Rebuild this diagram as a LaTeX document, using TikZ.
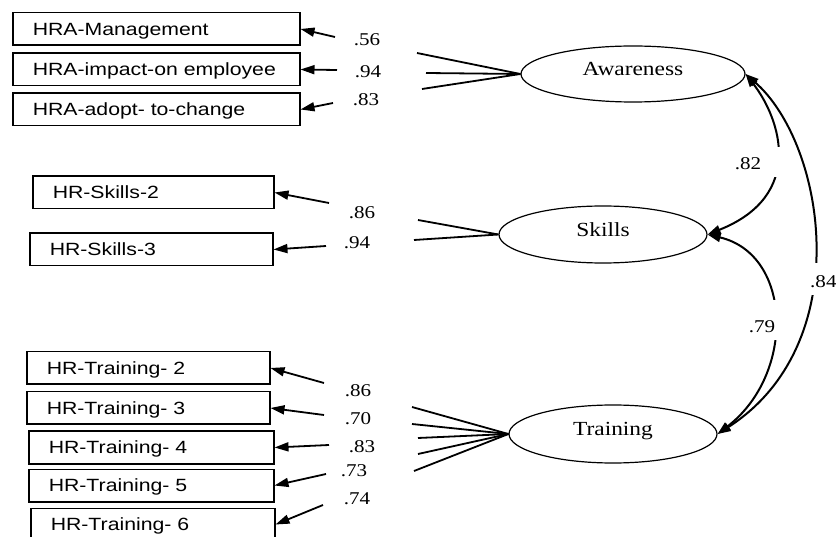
\documentclass[tikz,border=0pt]{standalone}
\usepackage{fontspec}
\usetikzlibrary{shapes.geometric,arrows.meta}
\newfontfamily\boxfont[FakeStretch=1.2]{Liberation Sans}
\newfontfamily\serifw[FakeStretch=1.17]{Liberation Serif}
\begin{document}
\begin{tikzpicture}[x=1pt,y=-1pt,
  box/.style={draw, rectangle, line width=1.5pt, anchor=west, minimum height=32.5pt,
    inner xsep=20pt, inner ysep=0pt, align=left,
    font={\boxfont\fontsize{17.7}{20}\selectfont}, text height=12.7pt, text depth=0pt},
  ell/.style={draw, ellipse, line width=1.2pt, inner sep=0pt,
    font={\serifw\fontsize{20}{22}\selectfont}, text height=13.4pt, text depth=10pt},
  lab/.style={inner sep=0pt, font={\serifw\fontsize{18}{20}\selectfont},
    text height=12.2pt, text depth=0pt},
  arr/.style={line width=1.8pt, -{Triangle[length=14pt,width=9pt]}},
  fan/.style={line width=1.8pt},
  curv/.style={line width=2pt,
    {Triangle[length=13pt,width=9pt]}-{Triangle[length=13pt,width=9pt]}}]
\path[use as bounding box] (0,0) rectangle (836,537);
\clip (0,0) rectangle (836,537);

% indicator boxes
\node[box, text width=247pt] (B1) at (12,29) {HRA-Management};
\node[box, text width=247pt] (B2) at (12,69.5) {HRA-impact-on employee};
\node[box, text width=247pt] (B3) at (12,109.5) {HRA-adopt- to-change};
\node[box, text width=201pt] (B4) at (32,192.5) {HR-Skills-2};
\node[box, text width=203pt] (B5) at (29,249.5) {HR-Skills-3};
\node[box, text width=203pt] (B6) at (26,368) {HR-Training- 2};
\node[box, text width=203pt] (B7) at (26,408) {HR-Training- 3};
\node[box, text width=205pt] (B8) at (28,447.5) {HR-Training- 4};
\node[box, text width=205pt] (B9) at (28,485.5) {HR-Training- 5};
\node[box, text width=204pt] (B10) at (30,524.5) {HR-Training- 6};

% latent variables
\node[ell, minimum width=224pt, minimum height=56pt] (A) at (633,74) {Awareness};
\node[ell, minimum width=208pt, minimum height=57pt] (S) at (603,234.5) {Skills};
\node[ell, minimum width=208pt, minimum height=58pt] (T) at (613,434) {Training};

% free ends of the fan lines
\coordinate (f1) at (417,53);
\coordinate (f2) at (426,73);
\coordinate (f3) at (422,89);
\coordinate (f4) at (418,220);
\coordinate (f5) at (414,240);
\coordinate (f6) at (412,407);
\coordinate (f7) at (412,424);
\coordinate (f8) at (418,438);
\coordinate (f9) at (418,454);
\coordinate (f10) at (414,471);
% tails of the arrows into the boxes
\coordinate (t1) at (335,37);
\coordinate (t2) at (337,70);
\coordinate (t3) at (333,103);
\coordinate (t4) at (329,203);
\coordinate (t5) at (326,246);
\coordinate (t6) at (324,383);
\coordinate (t7) at (324,415);
\coordinate (t8) at (329,445);
\coordinate (t9) at (326,474);
\coordinate (t10) at (323,505);

\foreach \i in {1,2,3} {\draw[fan] (A.west) -- (f\i);}
\foreach \i in {4,5} {\draw[fan] (S.west) -- (f\i);}
\foreach \i in {6,7,8,9,10} {\draw[fan] (T.west) -- (f\i);}
\foreach \i in {1,...,10} {\draw[arr] (t\i) -- (B\i.east);}

% loadings
\node[lab] (l1) at (367,39) {.56};
\node[lab] (l2) at (368,71) {.94};
\node[lab] (l3) at (366,99) {.83};
\node[lab] (l4) at (362,212) {.86};
\node[lab] (l5) at (357,242) {.94};
\node[lab] (l6) at (358,390) {.86};
\node[lab] (l7) at (358,418) {.70};
\node[lab] (l8) at (362,446) {.83};
\node[lab] (l9) at (354,470) {.73};
\node[lab] (l10) at (357,498) {.74};

% correlations
\draw[curv] (A.east) .. controls +(35,45) and +(98,-39) .. (S.east);
\draw[curv] (S.east) .. controls +(85,20) and +(78,-60) .. (T.east);
\draw[curv] (A.east) .. controls +(80,70) and +(140,-90) .. (T.east);
\fill[white] (762,147) rectangle (786,177);
\fill[white] (762,300) rectangle (790,340);
\fill[white] (800,263) rectangle (836,295);
\node[lab] (c1) at (748,163) {.82};
\node[lab] (c2) at (762,326) {.79};
\node[lab, anchor=west] (c3) at (810,281) {.84};
\end{tikzpicture}
\end{document}
